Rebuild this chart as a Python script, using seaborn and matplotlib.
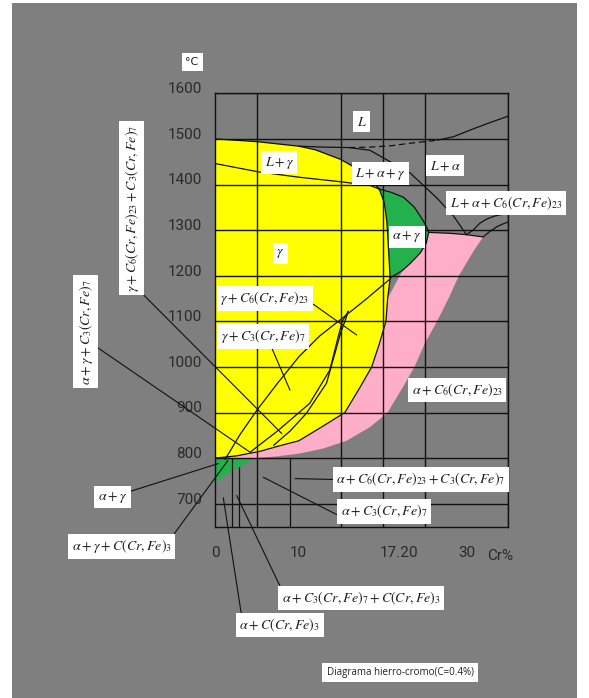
import matplotlib
matplotlib.use("Agg")
import matplotlib.pyplot as plt
from matplotlib.patches import Rectangle
import matplotlib.transforms as mtransforms
import seaborn as sns

# ---------------- axes ----------------
temp_ticks = [700, 800, 900, 1000, 1100, 1200, 1300, 1400, 1500, 1600]
cr_grid = [0, 5, 10, 15, 20, 25, 30, 35]
cr_ticks = [0, 10, 22, 30]
cr_tick_labels = ["0", "10", "17.20", "30"]

# ---------------- phase boundaries (Cr %, °C) ----------------
# liquidus L / L+gamma (top of the gamma field)
liquidus_cr = [0, 5, 10, 12, 15, 16.9, 18.5, 19.6]
liquidus_t = [1500, 1494, 1484, 1476, 1455, 1435, 1410, 1390]
# right edge of the gamma field against alpha+gamma
gamma_edge_cr = [19.6, 20.2, 20.5, 20.7, 20.9]
gamma_edge_t = [1390, 1360, 1320, 1260, 1195]
# gamma-side limit of the M23C6 field
gamma_c6_cr = [20.9, 20.6, 20.4, 19.6, 18.7, 17.3, 15.5, 12.7, 10.0, 7.5, 5.4, 2.6, 0]
gamma_c6_t = [1195, 1150, 1100, 1050, 1000, 955, 900, 868, 838, 826, 815, 805, 800]
# upper alpha+gamma field
ag_top_cr = [19.6, 21.0, 22.5, 23.8, 24.8, 25.3, 25.5]
ag_top_t = [1390, 1383, 1372, 1350, 1322, 1305, 1295]
ag_c6_cr = [25.5, 25.2, 24.5, 23.3, 22.4, 20.9]
ag_c6_t = [1295, 1271, 1250, 1227, 1212, 1195]
# alpha + C6 field
c6_top_cr = [25.5, 28.0, 30.0, 32.0]
c6_top_t = [1295, 1293, 1290, 1285]
c6_outer_cr = [32.0, 31.0, 30.2, 29.1, 28.0, 26.5, 25.0, 23.8, 22.4, 20.6,
               18.5, 15.7, 12.9, 10.1, 7.5, 4.8, 1.4]
c6_outer_t = [1285, 1258, 1234, 1200, 1155, 1100, 1050, 1000, 955, 900,
              868, 838, 821, 810, 804, 800, 800]
# eutectoid alpha+gamma triangle
ag_low_cr = [0, 4.8, 3.8, 2.2, 1.0, 0]
ag_low_t = [800, 800, 790, 773, 760, 745]

# solidus inside L+gamma
solidus_cr = [0, 5.1, 10, 15, 18.5, 19.6]
solidus_t = [1446, 1428, 1416, 1406, 1398, 1390]
# L / L+gamma continuation and L / L+alpha
l_gamma_cr = [10, 13, 16]
l_gamma_t = [1484, 1482, 1481]
l_alpha_dash_cr = [16, 18.5, 21, 23.5, 26.5]
l_alpha_dash_t = [1481, 1482, 1485, 1491, 1497]
l_alpha_cr = [26.5, 28.5, 30.4, 32.7, 35]
l_alpha_t = [1497, 1505, 1519, 1535, 1550]
# L+alpha+gamma / L+alpha
lag_cr = [16, 18.5, 23.3, 26.5, 28.5, 30.0]
lag_t = [1481, 1475, 1425, 1370, 1330, 1290]
# carbide lines above 1285 °C at high Cr
hc1_cr = [30.0, 30.8, 31.6, 32.5, 33.4, 35]
hc1_t = [1290, 1300, 1315, 1325, 1331, 1337]
hc2_cr = [32.0, 32.8, 33.6, 34.3, 35]
hc2_t = [1285, 1297, 1307, 1313, 1318]
# gamma / gamma+carbide solvus
solvus_cr = [1.2, 3.0, 5.0, 7.5, 10.0, 12.5, 15.0, 18.0, 20.9]
solvus_t = [797, 852, 905, 965, 1022, 1068, 1104, 1148, 1193]
# three-phase gamma+C6+C3 field
c3_left_cr = [4.2, 7.5, 11.3, 13.7, 14.7, 15.2, 15.9]
c3_left_t = [813, 860, 920, 993, 1066, 1100, 1122]
c3_right_cr = [7.0, 9.0, 10.9, 13.3, 14.3, 15.0, 15.6, 15.9]
c3_right_t = [828, 860, 898, 964, 1029, 1075, 1105, 1122]
# low-temperature carbide limits
low_a_cr = [2.0, 2.0]
low_a_t = [800, 650]
low_b_cr = [2.9, 2.9]
low_b_t = [781, 650]
low_c_cr = [9.0, 9.0]
low_c_t = [800, 650]

# ---------------- style ----------------
sns.set_theme(style="white")
plt.rcParams["font.family"] = ["DejaVu Sans"]
plt.rcParams["mathtext.fontset"] = "stix"

GRAY = "#7f7f7f"
YELLOW = "#ffff00"
GREEN = "#22b14c"
PINK = "#ffaec9"
INK = "#111111"
TXT = "#1e1e1e"

W, H = 589, 698
fig = plt.figure(figsize=(W / 100, H / 100), dpi=100)
fig.patch.set_facecolor("white")
fig.add_artist(Rectangle((12 / W, 0), (577 - 12) / W, (H - 3) / H,
                         transform=fig.transFigure, fc=GRAY, ec="none", zorder=-10))

ax = fig.add_axes([215 / W, 1 - 526.5 / H, (508.3 - 215) / W, (526.5 - 93.3) / H])
ax.set_facecolor(GRAY)

# ---------------- filled fields ----------------
ax.fill(liquidus_cr + gamma_edge_cr[1:] + gamma_c6_cr[1:],
        liquidus_t + gamma_edge_t[1:] + gamma_c6_t[1:],
        color=YELLOW, lw=0, zorder=1)
ax.fill(ag_top_cr + ag_c6_cr[1:] + gamma_edge_cr[::-1][1:],
        ag_top_t + ag_c6_t[1:] + gamma_edge_t[::-1][1:],
        color=GREEN, lw=0, zorder=1)
ax.fill(c6_top_cr + c6_outer_cr[1:] + gamma_c6_cr[::-1][1:-1] + ag_c6_cr[::-1][1:],
        c6_top_t + c6_outer_t[1:] + gamma_c6_t[::-1][1:-1] + ag_c6_t[::-1][1:],
        color=PINK, lw=0, zorder=1)
ax.fill(ag_low_cr, ag_low_t, color=GREEN, lw=0, zorder=1)


def boundary(cr, t, lw=0.9, ls="-"):
    sns.lineplot(x=cr, y=t, sort=False, estimator=None, ax=ax,
                 color=INK, lw=lw, linestyle=ls, zorder=2)


for cr, t in [(liquidus_cr, liquidus_t), (gamma_edge_cr, gamma_edge_t),
              (gamma_c6_cr, gamma_c6_t), (ag_top_cr, ag_top_t), (ag_c6_cr, ag_c6_t),
              (c6_top_cr, c6_top_t), (solidus_cr, solidus_t), (l_gamma_cr, l_gamma_t),
              (l_alpha_cr, l_alpha_t), (lag_cr, lag_t), (hc1_cr, hc1_t), (hc2_cr, hc2_t),
              (solvus_cr, solvus_t), (c3_left_cr, c3_left_t), (c3_right_cr, c3_right_t),
              (low_a_cr, low_a_t), (low_b_cr, low_b_t), (low_c_cr, low_c_t)]:
    boundary(cr, t)
boundary(l_alpha_dash_cr, l_alpha_dash_t, ls=(0, (5, 3)))

# ---------------- grid and ticks ----------------
ax.set_xlim(0, 35)
ax.set_ylim(650, 1600)
ax.set_xlabel("")
ax.set_ylabel("")
ax.set_xticks(cr_grid, minor=True)
ax.set_xticks(cr_ticks)
ax.set_xticklabels(cr_tick_labels)
ax.set_yticks(temp_ticks)
ax.set_yticklabels([str(v) for v in temp_ticks])
ax.grid(False)
ax.xaxis.grid(True, which="minor", color=INK, lw=1.0)
ax.yaxis.grid(True, which="major", color=INK, lw=1.0)
ax.set_axisbelow(False)
for s in ax.spines.values():
    s.set_color(INK)
    s.set_linewidth(1.0)
ax.tick_params(which="both", length=0)
ax.tick_params(axis="y", pad=9.5, labelsize=11, labelcolor="#2a2a2a")
ax.tick_params(axis="x", pad=14, labelsize=11, labelcolor="#2a2a2a")
for lab in ax.get_yticklabels():
    lab.set_fontfamily("Roboto")
    lab.set_transform(lab.get_transform() + mtransforms.ScaledTranslation(0, 4 / 72, fig.dpi_scale_trans))
for lab in ax.get_xticklabels():
    lab.set_fontfamily("Roboto")
ax.text(34.0, 586, "Cr%", ha="center", va="center", fontsize=11,
        color="#2a2a2a", family="Roboto")

# ---------------- field labels ----------------
box = dict(boxstyle="square,pad=0.25", fc="white", ec="none")
LFS = 10

plain_labels = [
    (r"$L$", 17.5, 1538),
    (r"$L+\gamma$", 7.67, 1448),
    (r"$L+\alpha+\gamma$", 19.77, 1424),
    (r"$L+\alpha$", 27.5, 1441),
    (r"$L+\alpha+C_6(Cr,Fe)_{23}$", 34.7, 1359),
    (r"$\alpha+\gamma$", 22.9, 1285),
    (r"$\gamma$", 7.76, 1249),
    (r"$\alpha+C_6(Cr,Fe)_{23}$", 28.9, 949),
]
for s, x, y in plain_labels:
    ax.text(x, y, s, ha="center", va="center", fontsize=LFS, color=TXT,
            bbox=box, zorder=5)

ax.text(-2.74, 1669, "°C", ha="center", va="center", fontsize=8, color=TXT,
        bbox=dict(boxstyle="square,pad=0.35", fc="white", ec="none"), zorder=5)

# labelled fields with leader lines: (text, label centre, target, relpos, rotation)
leaders = [
    (r"$\gamma+C_6(Cr,Fe)_{23}+C_3(Cr,Fe)_7$", (-9.96, 1348), (7.96, 854), (1, 0), 90),
    (r"$\alpha+\gamma+C_3(Cr,Fe)_7$", (-15.45, 1077), (4.18, 813), (1, 0.37), 90),
    (r"$\gamma+C_6(Cr,Fe)_{23}$", (5.97, 1151), (16.9, 1070), (1, 0.3), 0),
    (r"$\gamma+C_3(Cr,Fe)_7$", (5.73, 1067), (8.95, 949), (0.59, 0.0), 0),
    (r"$\alpha+\gamma$", (-12.23, 714), (0.39, 788), (1, 0.83), 0),
    (r"$\alpha+\gamma+C(Cr,Fe)_3$", (-11.13, 607), (1.55, 795), (1, 1), 0),
    (r"$\alpha+C(Cr,Fe)_3$", (7.72, 434), (0.99, 713), (0.03, 1), 0),
    (r"$\alpha+C_3(Cr,Fe)_7+C(Cr,Fe)_3$", (17.42, 493), (2.59, 718), (0, 1), 0),
    (r"$\alpha+C_3(Cr,Fe)_7$", (20.17, 683), (5.76, 758), (0.02, 0.15), 0),
    (r"$\alpha+C_6(Cr,Fe)_{23}+C_3(Cr,Fe)_7$", (24.58, 753), (9.55, 755), (0, 0.5), 0),
]
for s, (tx, ty), (px, py), rel, rot in leaders:
    ax.annotate(s, xy=(px, py), xytext=(tx, ty), ha="center", va="center",
                rotation=rot, fontsize=LFS, color=TXT, bbox=box, zorder=5,
                annotation_clip=False,
                arrowprops=dict(arrowstyle="-", color=INK, lw=0.8, relpos=rel,
                                shrinkA=0, shrinkB=0))

ax.text(22.08, 330, "Diagrama hierro-cromo(C=0.4%)", ha="center", va="center",
        fontsize=7, color="#222222", family="Open Sans",
        bbox=dict(boxstyle="square,pad=0.45", fc="white", ec="none"), zorder=5)

fig.savefig("out.png", dpi=100, facecolor=fig.get_facecolor())
